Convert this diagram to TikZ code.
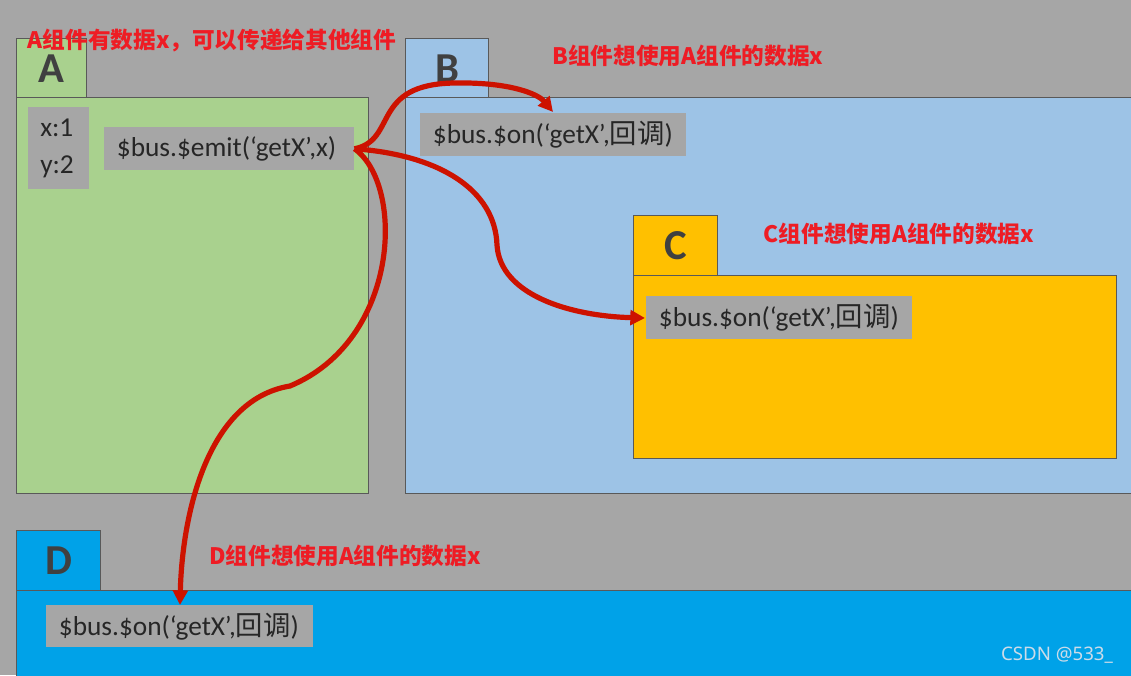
\documentclass[tikz,border=0pt]{standalone}
\usepackage{fontspec}
\setmainfont{Carlito}
\newfontfamily\cjk{Noto Sans CJK SC}
\newfontfamily\wm{Noto Sans}
\usetikzlibrary{arrows.meta}
\definecolor{bg}{RGB}{166,166,166}
\definecolor{agreen}{RGB}{169,209,142}
\definecolor{bblue}{RGB}{157,195,230}
\definecolor{cyellow}{RGB}{255,192,0}
\definecolor{dblue}{RGB}{0,162,232}
\definecolor{edge}{RGB}{89,89,89}
\definecolor{arrowred}{RGB}{205,18,0}
\definecolor{labred}{RGB}{238,28,36}
\definecolor{letter}{RGB}{64,64,64}
\tikzset{
  panel/.style={draw=edge, line width=1.1pt, anchor=north west, inner sep=0pt},
  tabbox/.style={panel, font=\fontsize{32}{32}\selectfont\bfseries, text=letter},
  codebox/.style={fill=bg, anchor=north west, inner xsep=9.5pt, inner ysep=0pt,
     minimum height=32.25pt, align=left, font=\fontsize{20.5}{24}\selectfont, text=black!85},
  redlabel/.style={text=labred, font=\cjk\bfseries\fontsize{17}{17}\selectfont, inner sep=0pt},
  flow/.style={draw=arrowred, line width=3.9pt, -{Triangle[length=11pt,width=11pt]}},
}
\begin{document}
\begin{tikzpicture}[x=0.75pt,y=-0.75pt]
\useasboundingbox (0,0) rectangle (1131,675);
\clip (0,0) rectangle (1131,675);
\fill[bg] (0,0) rectangle (1131,675);
% panels
\node[panel, fill=agreen, minimum width=264pt, minimum height=297pt] (Abody) at (16,97) {};
\node[tabbox, fill=agreen, minimum width=52.5pt, minimum height=44.25pt] (Atab) at (16,38) {A};
\node[panel, fill=bblue, minimum width=560pt, minimum height=297pt] (Bbody) at (405,97) {};
\node[tabbox, fill=bblue, minimum width=62.25pt, minimum height=44.25pt] (Btab) at (405,38) {B};
\node[panel, fill=cyellow, minimum width=362.25pt, minimum height=137.25pt] (Cbody) at (633,275) {};
\node[tabbox, fill=cyellow, minimum width=63pt, minimum height=45pt] (Ctab) at (633,215) {C};
\node[panel, fill=dblue, minimum width=860pt, minimum height=90pt] (Dbody) at (16,590) {};
\node[tabbox, fill=dblue, minimum width=63pt, minimum height=45pt] (Dtab) at (16,530) {D};
% code boxes
\node[codebox, text width=27.75pt, minimum height=61.5pt, inner xsep=9pt, font=\fontsize{20.5}{27.5}\selectfont] (xy) at (28,107) {x:1\\y:2};
\node[codebox, text width=168.5pt] (emit) at (104,127) {\$bus.\$emit(‘getX’,x)};
\node[codebox, text width=180.5pt] (bon) at (420,113) {\$bus.\$on(‘getX’,{\cjk 回调})};
\node[codebox, text width=180.5pt] (con) at (646,296) {\$bus.\$on(‘getX’,{\cjk 回调})};
\node[codebox, text width=181.25pt, minimum height=31.5pt] (don) at (46,605) {\$bus.\$on(‘getX’,{\cjk 回调})};
% labels
\node[redlabel] (la) at (212,40) {A组件有数据x，可以传递给其他组件};
\node[redlabel] (lb) at (688,56) {B组件想使用A组件的数据x};
\node[redlabel] (lc) at (899,234) {C组件想使用A组件的数据x};
\node[redlabel] (ld) at (345,556) {D组件想使用A组件的数据x};
\node[text={rgb,255:red,205;green,220;blue,232}, font=\wm\fontsize{14}{14}\selectfont, inner sep=0pt] (wm) at (1057,655) {CSDN @533\_};
% arrow targets
\coordinate (bt) at (553,112);
\coordinate (ct) at (645,318);
\coordinate (dt) at (180,605);
% arrows
\draw[flow] (emit.east) .. controls (398,140) and (370,84) .. (455,83) .. controls (510,82) and (538,94) .. (bt);
\draw[flow] (emit.east) .. controls (440,155) and (495,190) .. (497,245) .. controls (500,295) and (570,316) .. (ct);
\draw[flow] (emit.east) .. controls (405,185) and (400,340) .. (290,386) .. controls (205,400) and (182,520) .. (dt);
\end{tikzpicture}
\end{document}
